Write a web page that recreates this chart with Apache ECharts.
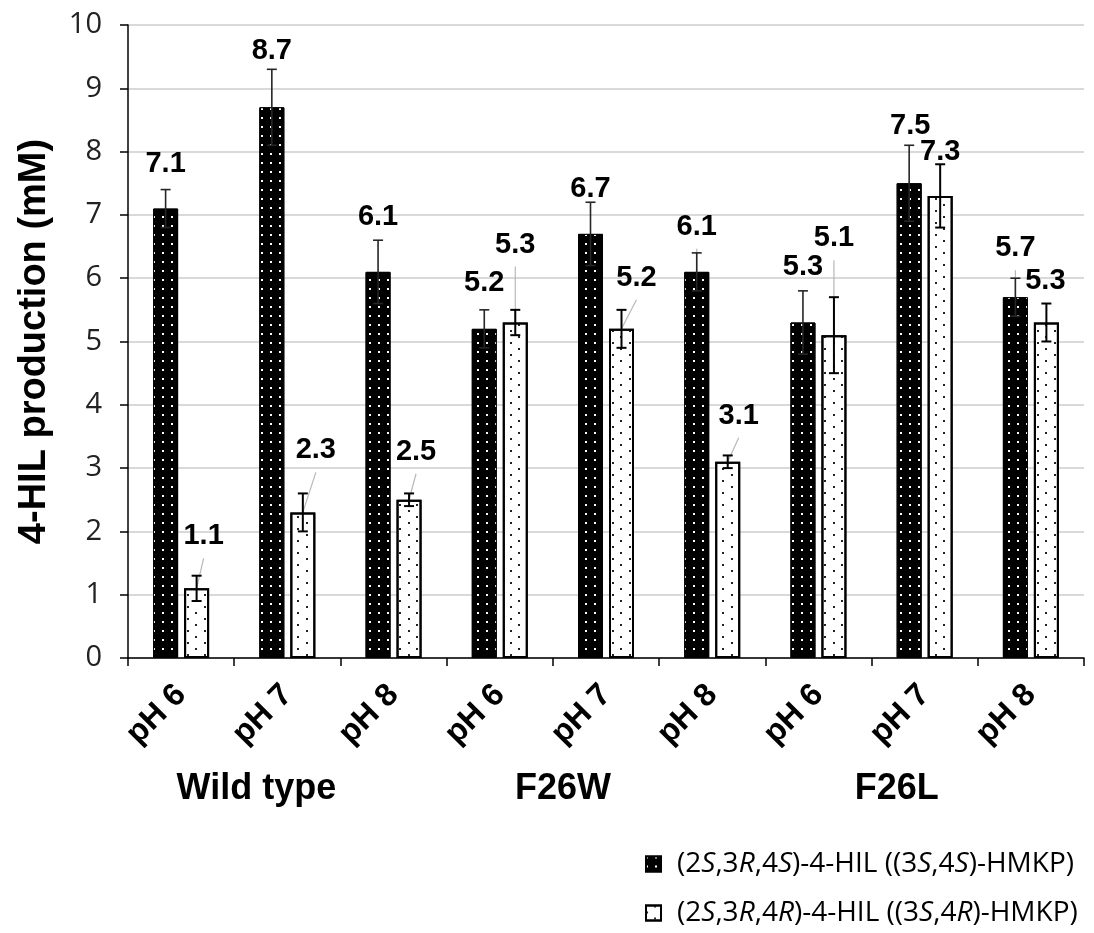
<!DOCTYPE html>
<html>
<head>
<meta charset="utf-8">
<script src="https://cdn.jsdelivr.net/npm/echarts@6/dist/echarts.min.js"></script>
<style>
  html, body { margin: 0; padding: 0; background: #fff; }
  #chart { width: 1094px; height: 933px; }
</style>
</head>
<body>
<div id="chart"></div>
<script>
// ---- data ----
const categories = ['pH 6', 'pH 7', 'pH 8', 'pH 6', 'pH 7', 'pH 8', 'pH 6', 'pH 7', 'pH 8'];
const groups = ['Wild type', 'F26W', 'F26L'];
const groupCenterIndex = [1, 4, 7];
const seriesNames = ['(2S,3R,4S)-4-HIL ((3S,4S)-HMKP)', '(2S,3R,4R)-4-HIL ((3S,4R)-HMKP)'];
const valuesSS = [7.1, 8.7, 6.1, 5.2, 6.7, 6.1, 5.3, 7.5, 5.7];
const valuesSR = [1.1, 2.3, 2.5, 5.3, 5.2, 3.1, 5.1, 7.3, 5.3];
const errorsSS = [0.3, 0.6, 0.5, 0.3, 0.5, 0.3, 0.5, 0.6, 0.3];
const errorsSR = [0.2, 0.3, 0.1, 0.2, 0.3, 0.1, 0.6, 0.5, 0.3];
const yMin = 0, yMax = 10, yStep = 1;

// ---- label placement (pixel shift of each value label from its bar top) ----
const labelShiftSS = [[0, -45], [0, -56], [0, -55], [0, -46], [0, -45], [0, -45], [0, -56], [1, -57], [0, -49]];
const labelShiftSR = [[7, -52], [13, -62], [7, -48], [0, -78], [15, -51], [11, -46], [0, -97], [0, -44], [-1, -42]];
const leaderSS = [0, 0, 0, 0, 0, 1, 0, 0, 1];
const leaderSR = [1, 1, 1, 1, 1, 1, 1, 0, 0];
const groupShift = [-31, -43, -28];

// ---- geometry / style ----
const BAR_W = 25, BAR_GAP = 6;
const HALF_STEP = (BAR_W + BAR_GAP) / 2;
const SANS = 'Liberation Sans, Arial, sans-serif';
const SOFT = 'Open Sans, sans-serif';

const chart = echarts.init(document.getElementById('chart'), null, { renderer: 'canvas' });

const darkDecal = {
  symbol: 'rect', symbolSize: 1, color: '#ffffff', backgroundColor: null,
  dashArrayX: [1.8, 6.2], dashArrayY: [1.8, 6.2]
};
const lightDecal = {
  symbol: 'rect', symbolSize: 1, color: '#222222', backgroundColor: null,
  dashArrayX: [[1.6, 14.4], [0, 8, 1.6, 6.4]], dashArrayY: [1.6, 3.4]
};

function sideOf(k) { return k === 0 ? -1 : 1; }

function errorItem(k) {
  return function (params, api) {
    const c = api.value(0), v = api.value(1), e = api.value(2);
    const hi = api.coord([c, v + e]);
    const lo = api.coord([c, v - e]);
    const x = hi[0] + sideOf(k) * HALF_STEP;
    const stroke = k === 0 ? '#262626' : '#000';
    const w = k === 0 ? 1.6 : 2;
    const cap = 5;
    const st = { stroke: stroke, lineWidth: w };
    return {
      type: 'group',
      children: [
        { type: 'line', shape: { x1: x, y1: hi[1], x2: x, y2: lo[1] }, style: st },
        { type: 'line', shape: { x1: x - cap, y1: hi[1], x2: x + cap, y2: hi[1] }, style: st },
        { type: 'line', shape: { x1: x - cap, y1: lo[1], x2: x + cap, y2: lo[1] }, style: st }
      ]
    };
  };
}

function leaderItem(k) {
  const shifts = k === 0 ? labelShiftSS : labelShiftSR;
  const flags = k === 0 ? leaderSS : leaderSR;
  return function (params, api) {
    const i = params.dataIndex;
    if (!flags[i]) return null;
    const p = api.coord([api.value(0), api.value(1)]);
    const bx = p[0] + sideOf(k) * HALF_STEP;
    const lx = bx + shifts[i][0];
    const ly = p[1] + shifts[i][1];
    return {
      type: 'line',
      shape: { x1: lx, y1: ly + 22, x2: bx, y2: p[1] },
      style: { stroke: '#b8b8b8', lineWidth: 1.2 }
    };
  };
}

function labelItem(k) {
  const shifts = k === 0 ? labelShiftSS : labelShiftSR;
  return function (params, api) {
    const i = params.dataIndex;
    const v = api.value(1);
    const p = api.coord([api.value(0), v]);
    const bx = p[0] + sideOf(k) * HALF_STEP;
    return {
      type: 'text',
      x: bx + shifts[i][0],
      y: p[1] + shifts[i][1],
      style: {
        text: v.toFixed(1),
        fill: '#000',
        font: 'bold 29px ' + SANS,
        align: 'center',
        verticalAlign: 'middle'
      }
    };
  };
}

const seriesList = [];
[valuesSS, valuesSR].forEach(function (vals, k) {
  seriesList.push({
    name: seriesNames[k],
    type: 'bar',
    data: vals,
    barWidth: BAR_W,
    barGap: (BAR_GAP / BAR_W * 100) + '%',
    z: 2,
    itemStyle: {
      color: k === 0 ? '#000' : '#fff',
      borderColor: '#000',
      borderWidth: k === 0 ? 1 : 2,
      decal: k === 0 ? darkDecal : lightDecal
    },
    emphasis: { disabled: true }
  });
});
[valuesSS, valuesSR].forEach(function (vals, k) {
  const errs = k === 0 ? errorsSS : errorsSR;
  seriesList.push({
    type: 'custom', z: 3, silent: true,
    renderItem: leaderItem(k),
    data: vals.map(function (v, i) { return [i, v]; })
  });
  seriesList.push({
    type: 'custom', z: 4, silent: true,
    renderItem: errorItem(k),
    data: vals.map(function (v, i) { return [i, v, errs[i]]; })
  });
  seriesList.push({
    type: 'custom', z: 5, silent: true,
    renderItem: labelItem(k),
    data: vals.map(function (v, i) { return [i, v]; })
  });
});

function legendText(name) {
  return name.replace(/(\d)([SR])/g, '$1{i|$2}');
}

const option = {
  animation: false,
  backgroundColor: '#fff',
  grid: { left: 128, right: 10, top: 25, bottom: 275, containLabel: false, outerBoundsMode: 'none' },
  legend: {
    data: seriesNames,
    orient: 'vertical',
    left: 640,
    top: 845,
    itemWidth: 15,
    itemHeight: 15,
    itemGap: 21,
    icon: 'rect',
    selectedMode: false,
    formatter: legendText,
    textStyle: {
      fontFamily: SOFT, fontSize: 28, color: '#000', padding: [0, 0, 0, 11],
      rich: { i: { fontFamily: SOFT, fontSize: 28, fontStyle: 'italic', color: '#000' } }
    }
  },
  xAxis: {
    type: 'category',
    data: categories,
    axisLine: { show: true, lineStyle: { color: '#000', width: 1.5 } },
    axisTick: { show: true, interval: 0, length: 8, lineStyle: { color: '#000', width: 1.5 } },
    axisLabel: {
      interval: 0, rotate: 45, margin: 32,
      fontFamily: SANS, fontWeight: 'bold', fontSize: 32, color: '#000'
    },
    splitLine: { show: false }
  },
  yAxis: {
    type: 'value',
    min: yMin, max: yMax, interval: yStep,
    name: '4-HIL production (mM)',
    nameLocation: 'middle',
    nameGap: 74,
    nameTextStyle: { fontFamily: SANS, fontWeight: 'bold', fontSize: 38, color: '#000' },
    axisLine: { show: true, lineStyle: { color: '#000', width: 1.5 } },
    axisTick: { show: true, length: 8, lineStyle: { color: '#000', width: 1.5 } },
    axisLabel: { fontFamily: SOFT, fontSize: 29, color: '#222', margin: 26 },
    splitLine: { show: true, lineStyle: { color: '#d9d9d9', width: 2 } }
  },
  series: seriesList
};

chart.setOption(option);

// group captions beneath the pH labels
const groupGraphics = groups.map(function (g, j) {
  const x = chart.convertToPixel({ xAxisIndex: 0 }, groupCenterIndex[j]);
  return {
    type: 'text',
    x: x + groupShift[j],
    y: 789,
    style: {
      text: g, fill: '#000', font: 'bold 36px ' + SANS,
      align: 'center', verticalAlign: 'middle'
    }
  };
});
chart.setOption({ graphic: groupGraphics });
</script>
</body>
</html>
